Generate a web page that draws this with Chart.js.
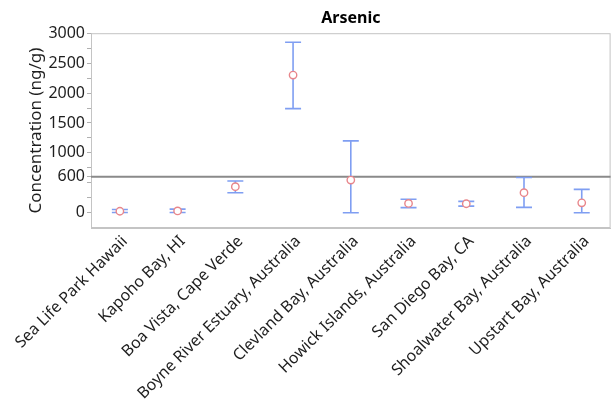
<!DOCTYPE html>
<html>
<head>
<meta charset="utf-8">
<title>Arsenic</title>
<script src="https://cdn.jsdelivr.net/npm/chart.js@4"></script>
<style>
  html, body { margin: 0; padding: 0; background: #fff; }
  #wrap { width: 616px; height: 404px; }
</style>
</head>
<body>
<div id="wrap"><canvas id="myChart" width="616" height="404"></canvas></div>
<script>
'use strict';
//data
let sites = ['Sea Life Park Hawaii', 'Kapoho Bay, HI', 'Boa Vista, Cape Verde', 'Boyne River Estuary, Australia',
  'Clevland Bay, Australia', 'Howick Islands, Australia', 'San Diego Bay, CA', 'Shoalwater Bay, Australia', 'Upstart Bay, Australia'];
let means = [25, 30, 435, 2300, 545, 155, 150, 335, 165];
let lows = [5, 5, 335, 1740, 0, 85, 110, 90, 0];
let highs = [55, 60, 530, 2850, 1200, 225, 190, 590, 390];
let majorTicks = [0, 600, 1000, 1500, 2000, 2500, 3000];
let minorTicks = [250, 500, 750, 1250, 1750, 2250, 2750];
let refLine = 600;

Chart.defaults.font.family = "'Noto Sans', 'Open Sans', sans-serif";
Chart.defaults.color = '#1e1e1e';

//error bars, the 600 line and the frame
const errorBars = {
  id: 'errorBars',
  beforeDatasetsDraw(chart) {
    const {ctx, chartArea, scales} = chart;
    const x = scales.x;
    const y = scales.y;
    ctx.save();
    ctx.strokeStyle = '#c4c4c4';
    ctx.lineWidth = 1;
    ctx.strokeRect(chartArea.left + 0.5, chartArea.top + 0.5, chartArea.right - chartArea.left - 1, chartArea.bottom - chartArea.top - 1);

    let ry = y.getPixelForValue(refLine);
    ctx.strokeStyle = '#8a8a8a';
    ctx.lineWidth = 2;
    ctx.beginPath();
    ctx.moveTo(chartArea.left, ry);
    ctx.lineTo(chartArea.right, ry);
    ctx.stroke();

    ctx.strokeStyle = '#7f9ef2';
    ctx.lineWidth = 1.6;
    for (let i = 0; i < sites.length; i++) {
      let px = x.getPixelForValue(i);
      let yl = y.getPixelForValue(lows[i]);
      let yh = y.getPixelForValue(highs[i]);
      ctx.beginPath();
      ctx.moveTo(px, yl);
      ctx.lineTo(px, yh);
      ctx.moveTo(px - 8, yl);
      ctx.lineTo(px + 8, yl);
      ctx.moveTo(px - 8, yh);
      ctx.lineTo(px + 8, yh);
      ctx.stroke();
    }
    ctx.restore();
  }
};

const ctx = document.getElementById('myChart');

new Chart(ctx, {
  type: 'line',
  data: {
    labels: sites,
    datasets: [{
      label: 'Arsenic',
      data: means,
      showLine: false,
      pointStyle: 'circle',
      pointRadius: 3.7,
      pointBorderWidth: 1.4,
      pointBorderColor: '#e8868b',
      pointBackgroundColor: '#ffffff'
    }]
  },
  options: {
    responsive: false,
    animation: false,
    layout: { padding: { left: 0, right: 5, top: 0, bottom: 0 } },
    plugins: {
      legend: { display: false },
      tooltip: { enabled: false },
      title: {
        display: true,
        text: 'Arsenic',
        fullSize: false,
        color: '#000',
        font: { size: 16, weight: 'bold' },
        padding: { top: 9, bottom: 5 }
      }
    },
    scales: {
      x: {
        offset: true,
        grid: { display: false },
        border: { color: '#c4c4c4' },
        ticks: { autoSkip: false, minRotation: 45, maxRotation: 45, padding: -4, labelOffset: 5, font: { size: 16 } },
        afterFit(scale) { scale.height = 176; }
      },
      y: {
        min: -255,
        max: 3000,
        afterBuildTicks(scale) {
          scale.ticks = majorTicks.concat(minorTicks).sort((a, b) => a - b).map(v => ({ value: v }));
        },
        ticks: {
          autoSkip: false,
          padding: 2,
          font: { size: 16 },
          callback: (v) => majorTicks.includes(v) ? String(v) : ''
        },
        grid: { drawOnChartArea: false, drawTicks: true, tickLength: 4, tickColor: '#b0b0b0' },
        border: { color: '#c4c4c4' },
        title: { display: true, text: 'Concentration (ng/g)', font: { size: 17 }, padding: { top: 26, bottom: 0 } },
        afterFit(scale) { scale.width = 91; }
      }
    }
  },
  plugins: [errorBars]
});
</script>
</body>
</html>
